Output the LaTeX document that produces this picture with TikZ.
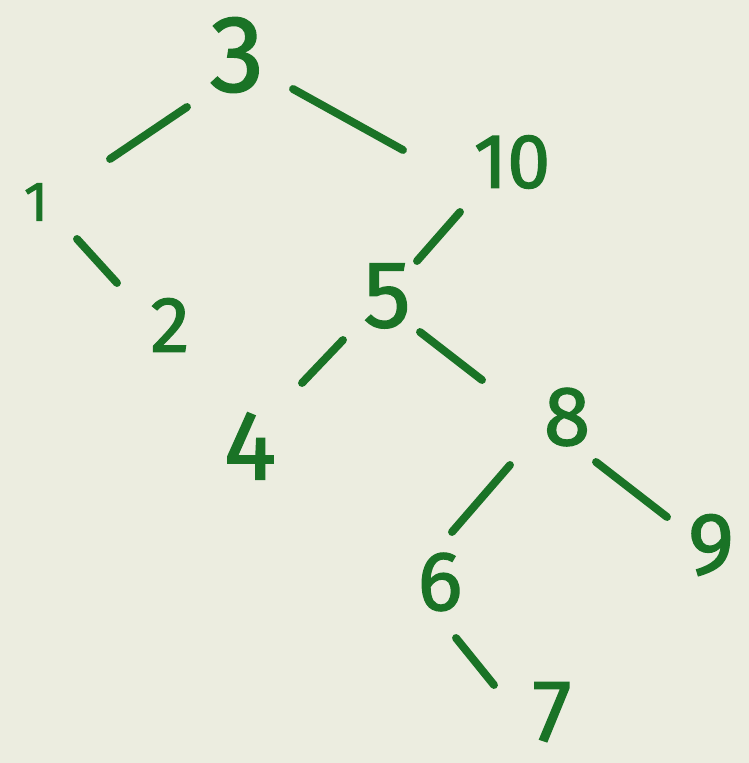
\documentclass[tikz,border=0pt]{standalone}
\usepackage{fontspec}
\setmainfont{Fira Sans}[BoldFeatures={FakeBold=1.5}, BoldFont={Fira Sans}]
\usetikzlibrary{calc}
\definecolor{paper}{RGB}{236,237,224}
\definecolor{ink}{RGB}{26,115,38}
\tikzset{
  digit/.style={text=ink, inner sep=0pt, font=\fontsize{#1}{#1}\selectfont\bfseries},
  edge/.style={draw=ink, line width=4.5pt, line cap=round}
}
\begin{document}
\begin{tikzpicture}[x=0.02cm, y=-0.02cm]
\fill[paper] (0,0) rectangle (749,763);
\useasboundingbox (0,0) rectangle (749,763);
\node[digit=62] (n3)  at (237,55)  {3};
\node[digit=32] (n1)  at (36,202)  {1};
\node[digit=44] (n10) at (512,162) {10};
\node[digit=45] (n2)  at (170,325) {2};
\node[digit=54] (n5)  at (387,296) {5};
\node[digit=56] (n4)  at (250,446) {4};
\node[digit=48] (n8)  at (567,417) {8};
\node[digit=48] (n6)  at (440,582) {6};
\node[digit=50] (n9)  at (711,545) {9};
\node[digit=50] (n7)  at (552,712) {7};
\draw[edge] ($(n3)+(-50,52)$) -- ($(n1)+(74,-43)$);
\draw[edge] ($(n3)+(56,34)$) -- ($(n10)+(-109,-12)$);
\draw[edge] ($(n1)+(41,37)$) -- ($(n2)+(-53,-42)$);
\draw[edge] ($(n10)+(-52,50)$) -- ($(n5)+(30,-35)$);
\draw[edge] ($(n5)+(-44,44)$) -- ($(n4)+(52,-63)$);
\draw[edge] ($(n5)+(33,36)$) -- ($(n8)+(-85,-37)$);
\draw[edge] ($(n8)+(-57,48)$) -- ($(n6)+(12,-50)$);
\draw[edge] ($(n8)+(29,45)$) -- ($(n9)+(-44,-28)$);
\draw[edge] ($(n6)+(16,56)$) -- ($(n7)+(-58,-27)$);
\end{tikzpicture}
\end{document}
